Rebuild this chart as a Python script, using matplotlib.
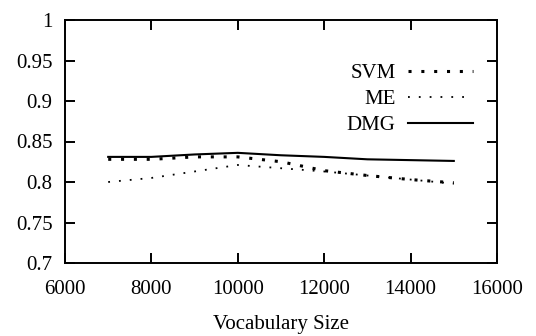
import matplotlib
matplotlib.use("Agg")
import matplotlib.pyplot as plt

# Data
vocab = [7000, 8000, 9000, 10000, 11000, 12000, 13000, 14000, 15000]
svm = [0.828, 0.828, 0.831, 0.831, 0.825, 0.814, 0.808, 0.803, 0.799]
me = [0.800, 0.805, 0.813, 0.821, 0.817, 0.813, 0.808, 0.803, 0.798]
dmg = [0.831, 0.831, 0.834, 0.836, 0.833, 0.831, 0.828, 0.827, 0.826]

plt.rcParams["font.family"] = "Liberation Serif"
plt.rcParams["font.size"] = 15

fig = plt.figure(figsize=(5.36, 3.36), dpi=100)
ax = fig.add_axes([65 / 536, 1 - 263 / 336, 432 / 536, 243 / 336])

ax.plot(vocab, svm, color="black", linewidth=2.2, linestyle=(0, (1, 3.2)),
        dash_capstyle="butt", label="SVM")
ax.plot(vocab, me, color="black", linewidth=1.3, linestyle=(0, (1, 5.0)),
        dash_capstyle="butt", label="ME")
ax.plot(vocab, dmg, color="black", linewidth=1.5, label="DMG")

ax.set_xlim(6000, 16000)
ax.set_ylim(0.7, 1.0)
ax.set_xticks([6000, 8000, 10000, 12000, 14000, 16000])
ax.set_yticks([0.7, 0.75, 0.8, 0.85, 0.9, 0.95, 1.0])
ax.set_yticklabels(["0.7", "0.75", "0.8", "0.85", "0.9", "0.95", "1"])
ax.tick_params(direction="in", length=7, width=1.4, top=True, right=True)
ax.tick_params(axis="y", pad=9)
ax.tick_params(axis="x", pad=12)
for s in ax.spines.values():
    s.set_linewidth(1.4)

ax.set_xlabel("Vocabulary Size", labelpad=12)

ax.legend(loc="upper right", bbox_to_anchor=(0.944, 0.82), frameon=False,
          markerfirst=False, handlelength=3.1, labelspacing=0.3,
          handletextpad=0.6, borderaxespad=0, borderpad=0)

fig.savefig("out.png", dpi=100)
